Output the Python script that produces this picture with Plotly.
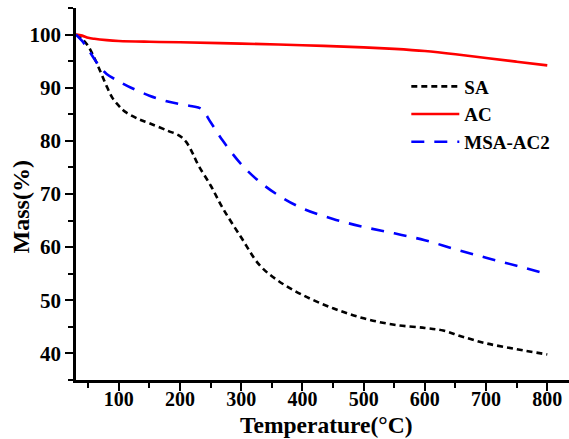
import plotly.graph_objects as go

# Thermogravimetric curves: temperature (°C) vs remaining mass (%)
sa_temp = [30, 40, 50, 60, 70, 80, 90, 100, 110, 130, 150, 180, 200, 210, 220, 230,
           250, 270, 300, 330, 360, 400, 450, 500, 550, 600, 630, 660, 700, 750, 800]
sa_mass = [100, 99.2, 97.8, 95.6, 93.0, 90.3, 88.0, 86.6, 85.5, 84.2, 83.3, 81.9, 80.9,
           79.8, 77.8, 75.4, 71.6, 67.3, 61.8, 56.6, 53.7, 51.0, 48.5, 46.6, 45.4, 44.8,
           44.3, 43.2, 41.9, 40.8, 39.8]

ac_temp = [30, 40, 50, 60, 80, 100, 150, 200, 300, 400, 500, 550, 600, 650, 700, 750, 800]
ac_mass = [100, 99.8, 99.4, 99.2, 98.95, 98.8, 98.65, 98.55, 98.3, 98.0, 97.6, 97.3, 96.9,
           96.3, 95.6, 94.9, 94.2]

msa_temp = [30, 40, 50, 60, 70, 80, 100, 120, 150, 180, 200, 220, 235, 250, 270, 300,
            330, 360, 400, 450, 500, 550, 600, 650, 700, 750, 800]
msa_mass = [100, 98.8, 97.2, 95.4, 93.8, 92.6, 91.2, 90.0, 88.5, 87.4, 86.9, 86.5, 86.0,
            83.5, 80.0, 75.6, 72.3, 69.8, 67.3, 65.3, 63.8, 62.6, 61.3, 59.6, 58.0, 56.5,
            54.9]

x_ticks = [100, 200, 300, 400, 500, 600, 700, 800]
y_ticks = [40, 50, 60, 70, 80, 90, 100]

FONT = "Liberation Serif"

fig = go.Figure()
fig.add_trace(go.Scatter(x=sa_temp, y=sa_mass, name="SA", mode="lines",
                         line=dict(color="black", width=2.6, dash="6px,4px", shape="spline")))
fig.add_trace(go.Scatter(x=ac_temp, y=ac_mass, name="AC", mode="lines",
                         line=dict(color="#ff0000", width=2.6, shape="spline")))
fig.add_trace(go.Scatter(x=msa_temp, y=msa_mass, name="MSA-AC2", mode="lines",
                         line=dict(color="#0000ff", width=2.6, dash="13px,10px", shape="spline")))

x_range = [30, 835.5]
y_range = [35, 105]

fig.update_layout(
    width=569, height=439,
    margin=dict(l=76, r=0, t=8, b=59),
    paper_bgcolor="white", plot_bgcolor="white",
    font=dict(family=FONT, color="black"),
    showlegend=True,
    legend=dict(x=0.67, y=0.84, xanchor="left", yanchor="top",
                bgcolor="rgba(0,0,0,0)", itemwidth=48, tracegroupgap=0,
                font=dict(family=FONT, size=19, color="black", weight="bold")),
    xaxis=dict(
        range=x_range, tickvals=x_ticks, ticks="outside", ticklen=8, tickwidth=2,
        tickcolor="black", showline=True, linecolor="black", linewidth=2.5,
        showgrid=False, zeroline=False, ticklabelstandoff=-9,
        tickfont=dict(family=FONT, size=20, weight="bold"),
        minor=dict(dtick=50, tick0=0, ticks="outside", ticklen=5, tickwidth=2, tickcolor="black"),
    ),
    xaxis2=dict(
        range=x_range, overlaying="x", side="top", matches="x",
        tickvals=[50 * k for k in range(1, 17)], ticks="inside", ticklen=4, tickwidth=2,
        tickcolor="black", showticklabels=False, showline=True, linecolor="black",
        linewidth=2.5, showgrid=False, zeroline=False,
    ),
    yaxis=dict(
        range=y_range, tickvals=y_ticks, ticks="outside", ticklen=8, tickwidth=2,
        tickcolor="black", showline=True, linecolor="black", linewidth=2.5,
        showgrid=False, zeroline=False,
        tickfont=dict(family=FONT, size=21, weight="bold"),
        minor=dict(dtick=5, tick0=0, ticks="outside", ticklen=5, tickwidth=2, tickcolor="black"),
    ),
    annotations=[
        dict(text="<b>Temperature(°C)</b>", xref="paper", yref="paper",
             x=0.509, y=-0.12, xanchor="center", yanchor="middle", showarrow=False,
             font=dict(family=FONT, size=23.5, color="black")),
        dict(text="<b>Mass(%)</b>", xref="paper", yref="paper", textangle=-90,
             x=-0.112, y=0.466, xanchor="center", yanchor="middle", showarrow=False,
             font=dict(family=FONT, size=24, color="black")),
    ],
)

fig.write_html("out.html")
